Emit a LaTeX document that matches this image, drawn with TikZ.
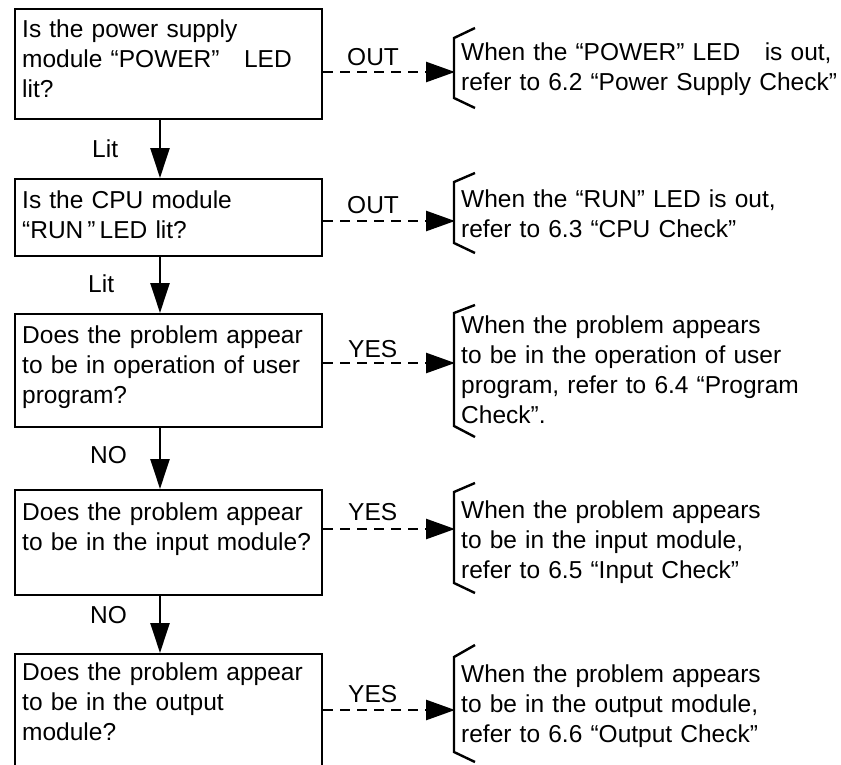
\documentclass[tikz,border=0pt]{standalone}
\usepackage{fontspec}
\setmainfont{Liberation Sans}
\usetikzlibrary{arrows.meta}
\tikzset{
  qbox/.style={draw, line width=2.4pt, minimum width=307pt, inner sep=0pt, anchor=north west},
  txt/.style={font=\fontsize{24.5}{30}\selectfont, text width=400pt, align=left, inner sep=0pt, anchor=base west},
  lbl/.style={font=\fontsize{24.5}{30}\selectfont, inner sep=0pt, anchor=base west},
  flow/.style={line width=2.4pt, -{Triangle[length=30pt,width=19pt]}},
  yesflow/.style={line width=2.6pt, dash pattern=on 10pt off 7pt, -{Triangle[length=29pt,width=20pt]}},
  brk/.style={line width=2.4pt, line join=miter},
}
\begin{document}
\begin{tikzpicture}[x=1pt,y=-1pt]
\useasboundingbox (0,0) rectangle (841,764);
\clip (0,0) rectangle (841,764);
\fill[white] (0,0) rectangle (841,764);
\coordinate (col) at (160,0);
% decision boxes
\node[qbox, minimum height=110pt] (b1) at (14,8) {};
\node[qbox, minimum height=77pt] (b2) at (14,178) {};
\node[qbox, minimum height=113pt] (b3) at (14,313) {};
\node[qbox, minimum height=105pt] (b4) at (14,489) {};
\node[qbox, minimum height=140pt] (b5) at (14,653) {};
% box texts
\node[txt] (q1) at (22,37) {Is the power supply\\module “POWER”\ \ \ LED\\lit?};
\node[txt] (q2) at (22,208) {Is the CPU module\\“RUN\,”\,LED lit?};
\node[txt] (q3) at (22,343) {Does the problem appear\\to be in operation of user\\program?};
\node[txt] (q4) at (22,520) {Does the problem appear\\to be in the input module?};
\node[txt] (q5) at (22,680) {Does the problem appear\\to be in the output\\module?};
% right texts
\node[txt] (r1) at (461,60) {When the “POWER” LED\ \ \ is out,\\refer to 6.2 “Power Supply Check”};
\node[txt] (r2) at (461,207) {When the “RUN” LED is out,\\refer to 6.3 “CPU Check”};
\node[txt] (r3) at (461,333) {When the problem appears\\to be in the operation of user\\program, refer to 6.4 “Program\\Check”.};
\node[txt] (r4) at (461,518) {When the problem appears\\to be in the input module,\\refer to 6.5 “Input Check”};
\node[txt] (r5) at (461,682) {When the problem appears\\to be in the output module,\\refer to 6.6 “Output Check”};
% brackets
\draw[brk] (475,28) -- (454,38) -- (454,98) -- (475,108);
\draw[brk] (475,173) -- (454,182) -- (454,243) -- (475,253);
\draw[brk] (475,305) -- (454,313) -- (454,426) -- (475,437);
\draw[brk] (475,483) -- (454,492) -- (454,583) -- (475,593);
\draw[brk] (475,645) -- (454,657) -- (454,752) -- (475,762);
\coordinate (e1) at (455,72);
\coordinate (e2) at (455,221);
\coordinate (e3) at (455,363);
\coordinate (e4) at (455,529);
\coordinate (e5) at (455,710);
% labels
\node[lbl] (o1) at (347,65) {OUT};
\node[lbl] (o2) at (347,213) {OUT};
\node[lbl] (y3) at (348,357) {YES};
\node[lbl] (y4) at (348,520) {YES};
\node[lbl] (y5) at (348,702) {YES};
\node[lbl] (l1) at (92,157) {Lit};
\node[lbl] (l2) at (88,292) {Lit};
\node[lbl] (n3) at (90,463) {NO};
\node[lbl] (n4) at (90,623) {NO};
% vertical flow
\draw[flow] (b1.south -| col) -- (b2.north -| col);
\draw[flow] (b2.south -| col) -- (b3.north -| col);
\draw[flow] (b3.south -| col) -- (b4.north -| col);
\draw[flow] (b4.south -| col) -- (b5.north -| col);
% side flows
\draw[yesflow] (b1.east |- e1) -- (e1);
\draw[yesflow] (b2.east |- e2) -- (e2);
\draw[yesflow] (b3.east |- e3) -- (e3);
\draw[yesflow] (b4.east |- e4) -- (e4);
\draw[yesflow] (b5.east |- e5) -- (e5);
\end{tikzpicture}
\end{document}
